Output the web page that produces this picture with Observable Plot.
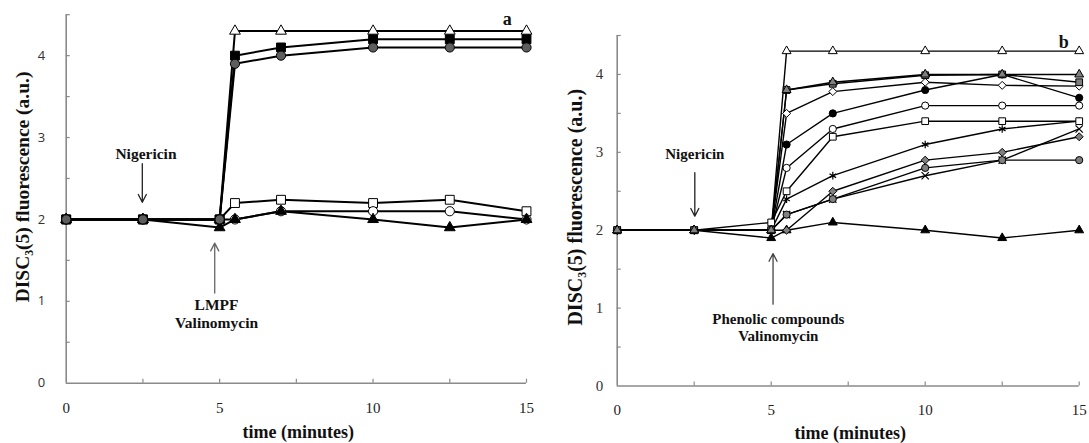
<!DOCTYPE html>
<html><head><meta charset="utf-8">
<script src="https://cdn.jsdelivr.net/npm/d3@7"></script>
<script src="https://cdn.jsdelivr.net/npm/@observablehq/plot@0.6"></script>
<style>
body{margin:0;background:#fff}
#wrap{display:flex;width:1089px;height:443px;background:#fff}
</style>
</head><body><div id="wrap"></div>
<script>
// ---------- shared ----------
const times = [0, 2.5, 5, 5.5, 7, 10, 12.5, 15];
const xTickLabels = [0, 5, 10, 15];
const xMinorTicks = [2.5, 5, 7.5, 10, 12.5, 15];
const yTicks = [0.5, 1, 1.5, 2, 2.5, 3, 3.5, 4, 4.5];
const yTickLabels = [0, 1, 2, 3, 4];
const yLabel = "DISC\u2083(5) fluorescence (a.u.)";
const xLabel = "time (minutes)";

// ---------- panel a values ----------
const aOpenTriangle   = [2, 2, 2,   4.3, 4.3,  4.3, 4.3,  4.3];
const aBlackSquare    = [2, 2, 2,   4.0, 4.1,  4.2, 4.2,  4.2];
const aGrayCircle     = [2, 2, 2,   3.9, 4.0,  4.1, 4.1,  4.1];
const aOpenSquare     = [2, 2, 2,   2.2, 2.24, 2.2, 2.24, 2.1];
const aOpenCircle     = [2, 2, 2,   2.0, 2.1,  2.1, 2.1,  2.0];
const aBlackTriangle  = [2, 2, 1.9, 2.0, 2.1,  2.0, 1.9,  2.0];

// ---------- panel b values ----------
const bOpenTriangle   = [2, 2, 2,   4.3, 4.3,  4.3,  4.3,  4.3];
const bGrayTriangle   = [2, 2, 2,   3.8, 3.9,  4.0,  4.0,  4.0];
const bGraySquare     = [2, 2, 2,   3.8, 3.88, 3.99, 4.0,  3.9];
const bOpenDiamond    = [2, 2, 2,   3.5, 3.78, 3.9,  3.86, 3.85];
const bBlackCircle    = [2, 2, 2,   3.1, 3.5,  3.8,  4.0,  3.7];
const bOpenCircle     = [2, 2, 2,   2.8, 3.3,  3.6,  3.6,  3.6];
const bOpenSquare     = [2, 2, 2.1, 2.5, 3.2,  3.4,  3.4,  3.4];
const bAsterisk       = [2, 2, 2,   2.4, 2.7,  3.1,  3.3,  3.4];
const bGrayDiamond    = [2, 2, 2,   2.0, 2.5,  2.9,  3.0,  3.2];
const bGrayCircle     = [2, 2, 2,   2.2, 2.4,  2.8,  2.9,  2.9];
const bTimes          = [2, 2, 2,   2.2, 2.4,  2.7,  2.9,  3.3];
const bBlackTriangle  = [2, 2, 1.9, 2.0, 2.1,  2.0,  1.9,  2.0];

// ---------- annotations ----------
const aTexts = [
  {x: 2.6, y: 2.8, t: "Nigericin"},
  {x: 4.9, y: 0.96, t: "LMPF"},
  {x: 4.9, y: 0.73, t: "Valinomycin"}
];
const aArrows = [
  {x1: 2.48, y1: 2.68, x2: 2.48, y2: 2.21, c: "#222"},
  {x1: 4.84, y1: 1.1, x2: 4.84, y2: 1.71, c: "#666"}
];
const aLetter = [{x: 14.37, y: 4.45, t: "a"}];

const bTexts = [
  {x: 2.52, y: 2.98, t: "Nigericin"},
  {x: 5.23, y: 0.86, t: "Phenolic compounds"},
  {x: 5.23, y: 0.64, t: "Valinomycin"}
];
const bArrows = [
  {x1: 2.52, y1: 2.74, x2: 2.52, y2: 2.18, c: "#222"},
  {x1: 5.06, y1: 1.05, x2: 5.06, y2: 1.7, c: "#444"}
];
const bLetter = [{x: 14.5, y: 4.41, t: "b"}];

// ---------- styles ----------
const GRAY_A = "#5e5e5e", GRAY_B = "#808080";
const seriesA = [
  {v: aOpenTriangle,  symbol: "triangle", fill: "white"},
  {v: aOpenSquare,    symbol: "square",   fill: "white"},
  {v: aOpenCircle,    symbol: "circle",   fill: "white"},
  {v: aBlackTriangle, symbol: "triangle", fill: "black"},
  {v: aBlackSquare,   symbol: "square",   fill: "black"},
  {v: aGrayCircle,    symbol: "circle",   fill: GRAY_A}
];
const seriesB = [
  {v: bOpenTriangle,  symbol: "triangle", fill: "white"},
  {v: bBlackTriangle, symbol: "triangle", fill: "black"},
  {v: bTimes,         symbol: "times",    fill: "none"},
  {v: bGrayCircle,    symbol: "circle",   fill: GRAY_B},
  {v: bGrayDiamond,   symbol: "diamond2", fill: GRAY_B},
  {v: bAsterisk,      symbol: "asterisk", fill: "none"},
  {v: bOpenSquare,    symbol: "square",   fill: "white"},
  {v: bOpenCircle,    symbol: "circle",   fill: "white"},
  {v: bBlackCircle,   symbol: "circle",   fill: "black"},
  {v: bOpenDiamond,   symbol: "diamond2", fill: "white"},
  {v: bGraySquare,    symbol: "square",   fill: GRAY_B},
  {v: bGrayTriangle,  symbol: "triangle", fill: GRAY_B}
];

const SERIF = "'Liberation Serif','Times New Roman',serif";
const AXIS = "#8a8a8a";

function panel(cfg) {
  const marks = [
    Plot.axisY({ticks: yTicks, tickSize: -4, stroke: AXIS, strokeWidth: 1.2,
      tickFormat: () => "", label: null}),
    Plot.axisY({ticks: yTickLabels, tickSize: 0, tickPadding: cfg.yPad, tickFormat: d => String(d),
      fill: cfg.yTickColor, fontFamily: cfg.yTickFont, fontSize: cfg.yTickSize, label: null}),
    Plot.axisX({ticks: xMinorTicks, tickSize: -4, stroke: AXIS, strokeWidth: 1.2,
      tickFormat: () => "", label: null}),
    Plot.axisX({ticks: xTickLabels, tickSize: 0, tickPadding: cfg.xPad, tickFormat: d => String(d),
      fill: "#222", fontFamily: SERIF, fontSize: 15, label: null}),
    Plot.ruleX([0], {stroke: AXIS, strokeWidth: 1.6}),
    Plot.ruleY([0], {stroke: AXIS, strokeWidth: 1.6})
  ];
  for (const s of cfg.series) {
    const rows = times.map((t, i) => ({t, v: s.v[i]}));
    marks.push(Plot.line(rows, {x: "t", y: "v", stroke: "black", strokeWidth: cfg.lw}));
  }
  for (const s of cfg.series) {
    const rows = times.map((t, i) => ({t, v: s.v[i]}));
    marks.push(Plot.dot(rows, {x: "t", y: "v", symbol: s.symbol, fill: s.fill,
      stroke: "black", strokeWidth: s.fill === "none" ? 1.2 : 1, r: cfg.r[s.symbol]}));
  }
  marks.push(
    Plot.arrow(cfg.arrows, {x1: "x1", y1: "y1", x2: "x2", y2: "y2", stroke: "c",
      strokeWidth: 1.3, headLength: 10, headAngle: 55, bend: 0}),
    Plot.text(cfg.texts, {x: "x", y: "y", text: "t", fontFamily: SERIF, fontWeight: "bold",
      fontSize: cfg.annSize, fill: "#111"}),
    Plot.text(cfg.letter, {x: "x", y: "y", text: "t", fontFamily: SERIF, fontWeight: "bold",
      fontSize: 18, fill: "#111"}),
    Plot.text([yLabel], {frameAnchor: "left", textAnchor: "middle", lineAnchor: "middle",
      rotate: -90, dx: cfg.ylDx, dy: cfg.ylDy,
      fontFamily: SERIF, fontWeight: "bold", fontSize: cfg.ylSize, fill: "#111"}),
    Plot.text([xLabel], {frameAnchor: "bottom", textAnchor: "middle", lineAnchor: "middle",
      dx: cfg.xlDx, dy: cfg.xlDy,
      fontFamily: SERIF, fontWeight: "bold", fontSize: 18, fill: "#111"})
  );
  return Plot.plot({
    width: cfg.width, height: 443,
    marginLeft: cfg.ml, marginRight: cfg.mr, marginTop: cfg.mt, marginBottom: cfg.mb,
    x: {domain: [0, 15], axis: null},
    y: {domain: [0, 4.5], axis: null},
    style: {background: "white", overflow: "visible", fontFamily: SERIF},
    marks
  });
}

const wrap = document.getElementById("wrap");
wrap.appendChild(panel({
  width: 545, ml: 65.7, mr: 19, mt: 14.2, mb: 60.3,
  series: seriesA, lw: 2, r: {triangle: 4, square: 5, circle: 4.6},
  yPad: 21, yTickColor: "#333", yTickFont: "'Open Sans','Liberation Sans',sans-serif", yTickSize: 13,
  xPad: 19, arrows: aArrows, texts: aTexts, letter: aLetter, annSize: 15.5,
  ylDx: -43, ylDy: -12, ylSize: 19.5, xlDx: 2, xlDy: 49
}));
wrap.appendChild(panel({
  width: 544, ml: 71.7, mr: 10.3, mt: 35, mb: 57.5,
  series: seriesB, lw: 1.4, r: {triangle: 3.3, square: 3.8, circle: 3.6, diamond2: 3.6, times: 3.4, asterisk: 3.6},
  yPad: 14, yTickColor: "#333", yTickFont: SERIF, yTickSize: 15,
  xPad: 18, arrows: bArrows, texts: bTexts, letter: bLetter, annSize: 15,
  ylDx: -42, ylDy: -3.5, ylSize: 20, xlDx: 2, xlDy: 47
}));
</script>
</body></html>
